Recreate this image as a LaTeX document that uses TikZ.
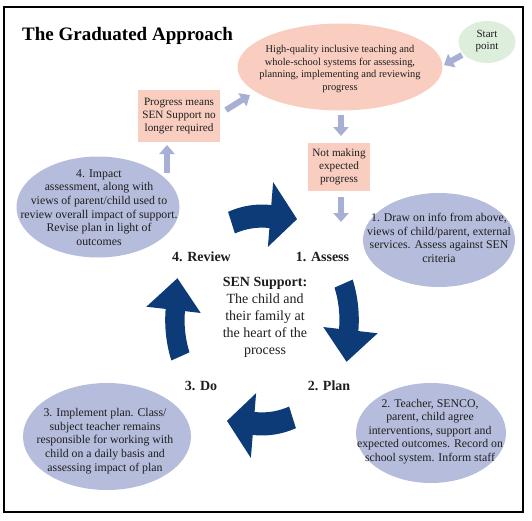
\documentclass[tikz,border=0pt]{standalone}
\usepackage{fontspec}
\setmainfont{Liberation Serif}
\usetikzlibrary{arrows.meta,shapes.geometric}
\definecolor{navy}{RGB}{13,59,120}
\definecolor{lav}{RGB}{182,188,219}
\definecolor{pinkfill}{RGB}{249,205,192}
\definecolor{greenfill}{RGB}{221,238,221}
\definecolor{larr}{RGB}{168,175,213}
\definecolor{ink}{RGB}{30,30,30}
\begin{document}
\begin{tikzpicture}[x=1pt,y=1pt,
  ell/.style={ellipse, inner sep=0pt, draw=none},
  lavell/.style={ell, fill=lav},
  bodytext/.style={align=center, text=ink, font=\fontsize{11.8}{13.6}\selectfont, inner sep=0pt},
  pinkbox/.style={rectangle, fill=pinkfill, inner sep=0pt, align=center, text=ink, font=\fontsize{11.2}{13}\selectfont},
  larrow/.style={draw=larr, line width=6pt, -{Triangle[width=15pt,length=9pt]}},
  stage/.style={font=\fontsize{14}{16}\selectfont\bfseries, text=ink, inner sep=0pt, anchor=base},
  cyc/.style={fill=navy}
]
\useasboundingbox (0,0) rectangle (532,-520);
\draw[line width=1.6pt] (4,-7) rectangle (523,-512);

% title
\node[anchor=base west, font=\fontsize{19}{22}\selectfont\bfseries, inner sep=0pt] (title) at (22,-40) {The Graduated Approach};

% top ellipse
\node[ell, fill=pinkfill, minimum width=205pt, minimum height=87pt] (hq) at (340,-67) {};
\node[align=center, text=ink, font=\fontsize{10.4}{12.4}\selectfont, inner sep=0pt] (hqt) at (340,-69) {High-quality inclusive teaching and\\whole-school systems for assessing,\\planning, implementing and reviewing\\progress};

% start point
\node[ell, fill=greenfill, minimum width=57pt, minimum height=42pt] (sp) at (487,-42) {};
\node[align=center, text=ink, font=\fontsize{11}{12.7}\selectfont, inner sep=0pt] (spt) at (487,-41) {Start\\point};

% pink boxes
\node[pinkbox, minimum width=82pt, minimum height=52pt] (prog) at (179,-116) {Progress means\\SEN Support no\\longer required};
\node[pinkbox, minimum width=62pt, minimum height=48pt] (notm) at (339,-167) {Not making\\expected\\progress};

% lavender ellipses
\node[lavell, minimum width=163pt, minimum height=101pt] (e4) at (98,-207) {};
\node[bodytext] (e4t) at (99,-207.5) {4. Impact\\assessment, along with\\views of parent/child used to\\review overall impact of support.\\Revise plan in light of\\outcomes};

\node[lavell, minimum width=152pt, minimum height=94pt] (e1) at (439,-240) {};
\node[bodytext] (e1t) at (439,-238) {1. Draw on info from above,\\views of child/parent, external\\services. Assess against SEN\\criteria};

\node[lavell, minimum width=150pt, minimum height=100pt] (e2) at (431,-433) {};
\node[bodytext] (e2t) at (430,-431.5) {2. Teacher, SENCO,\\parent, child agree\\interventions, support and\\expected outcomes. Record on\\school system. Inform staff};

\node[lavell, minimum width=168pt, minimum height=107pt] (e3) at (107,-436.5) {};
\node[bodytext] (e3t) at (105,-441) {3. Implement plan. Class/\\subject teacher remains\\responsible for working with\\child on a daily basis and\\assessing impact of plan};

% stage labels
\node[stage] (review) at (201.5,-261) {4. Review};
\node[stage] (assess) at (322.5,-261) {1. Assess};
\node[stage] (do) at (201,-390) {3. Do};
\node[stage] (plan) at (329,-390) {2. Plan};

% centre text
\node[align=center, text=ink, font=\fontsize{14}{17}\selectfont, inner sep=0pt] (sen) at (265,-317) {\textbf{SEN Support:}\\The child and\\their family at\\the heart of the\\process};

% cycle arrows
\begin{scope}[shift={(262,-320)}, xscale=0.88, yscale=1.05]
\foreach \t in {90,0,-90,180}{
  \pgfmathsetmacro{\ta}{\t+20.5}
  \pgfmathsetmacro{\tb}{\t-5.5}
  \pgfmathsetmacro{\tc}{\t-22.5}
  \fill[cyc] (\ta:110pt) arc[start angle=\ta, end angle=\tb, radius=110pt]
    -- (\tb:132pt) -- (\tc:104pt) -- (\tb:70pt) -- (\tb:88pt)
    arc[start angle=\tb, end angle=\ta, radius=88pt] -- cycle;
}
\end{scope}

% light arrows
\coordinate (a1s) at (462,-55);  \coordinate (a1e) at (444,-65);
\coordinate (a2s) at (341,-115); \coordinate (a2e) at (341,-136);
\coordinate (a3s) at (341,-197); \coordinate (a3e) at (341,-222);
\coordinate (a4s) at (167,-173); \coordinate (a4e) at (167,-145);
\coordinate (a5s) at (226,-110); \coordinate (a5e) at (250,-95);
\draw[larrow] (a1s) -- (a1e);
\draw[larrow] (a2s) -- (a2e);
\draw[larrow] (a3s) -- (a3e);
\draw[larrow] (a4s) -- (a4e);
\draw[larrow] (a5s) -- (a5e);
\end{tikzpicture}
\end{document}
